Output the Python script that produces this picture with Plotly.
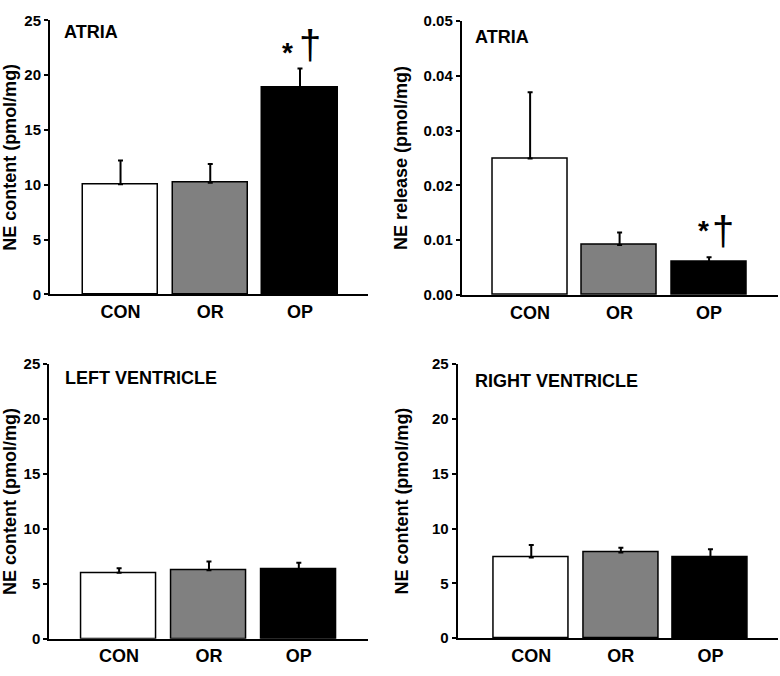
import plotly.graph_objects as go

groups = ["CON", "OR", "OP"]
bar_colors = ["white", "#808080", "black"]

# NE content, atria (pmol/mg)
atria_content = [10.05, 10.18, 18.85]
atria_content_err = [2.17, 1.72, 1.75]
# NE release, atria (pmol/mg)
atria_release = [0.0249, 0.0091, 0.0060]
atria_release_err = [0.0121, 0.0023, 0.0009]
# NE content, left ventricle
lv_content = [6.01, 6.24, 6.36]
lv_content_err = [0.41, 0.80, 0.56]
# NE content, right ventricle
rv_content = [7.35, 7.80, 7.37]
rv_content_err = [1.15, 0.44, 0.73]

FONT = "Arial, Liberation Sans, sans-serif"

fig = go.Figure()

panels = [
    # values, errs, xaxis, yaxis, label, label pos, ytitle, standoff, yrange, dtick, tickformat, xrange, xdomain, ydomain
    (atria_content, atria_content_err, "x", "y", "ATRIA", (0.038, 0.956), "NE content (pmol/mg)", 5,
     [0, 25], 5, "d", [-0.786, 2.758], [0.0641, 0.4718], [0.567, 0.9827]),
    (atria_release, atria_release_err, "x2", "y2", "ATRIA", (0.035, 0.94), "NE release (pmol/mg)", 11,
     [0, 0.05], 0.01, ".2f", [-0.764, 2.77], [0.592, 0.9974], [0.566, 0.982]),
    (lv_content, lv_content_err, "x3", "y3", "LEFT VENTRICLE", (0.042, 0.948), "NE content (pmol/mg)", 5,
     [0, 25], 5, "d", [-0.777, 2.77], [0.0632, 0.4718], [0.0444, 0.4611]),
    (rv_content, rv_content_err, "x4", "y4", "RIGHT VENTRICLE", (0.048, 0.938), "NE content (pmol/mg)", 19,
     [0, 25], 5, "d", [-0.821, 2.757], [0.5868, 0.9978], [0.0454, 0.4611]),
]

layout_axes = {}
annotations = []
for i, (vals, errs, xa, ya, label, lpos, ytitle, so, yr, dt, tf, xr, xd, yd) in enumerate(panels):
    fig.add_trace(go.Bar(
        x=[0, 1, 2], y=vals, width=0.836,
        marker=dict(color=bar_colors, line=dict(color="black", width=1.5)),
        error_y=dict(type="data", array=errs, arrayminus=[0, 0, 0], symmetric=False,
                     color="black", thickness=2, width=2.5),
        xaxis=xa, yaxis=ya, showlegend=False,
    ))
    n = "" if i == 0 else str(i + 1)
    layout_axes["xaxis" + n] = dict(
        domain=xd, range=xr, anchor=ya, tickvals=[0, 1, 2], ticktext=groups,
        showline=True, linecolor="black", linewidth=2, ticks="", showgrid=False,
        zeroline=False, tickfont=dict(family=FONT, size=18, color="black", weight="bold"),
        fixedrange=True,
    )
    layout_axes["yaxis" + n] = dict(
        domain=yd, range=yr, anchor=xa, dtick=dt, tick0=0, tickformat=tf,
        showline=True, linecolor="black", linewidth=2, ticks="outside", ticklen=4,
        tickwidth=1.5, tickcolor="black", showgrid=False, zeroline=False,
        tickfont=dict(family=FONT, size=15, color="black", weight="bold"),
        title=dict(text=ytitle, font=dict(family=FONT, size=18, color="black", weight="bold"),
                   standoff=so),
        fixedrange=True,
    )
    annotations.append(dict(
        text=label, xref=xa + " domain", yref=ya + " domain", x=lpos[0], y=lpos[1],
        xanchor="left", yanchor="middle", showarrow=False,
        font=dict(family=FONT, size=18, color="black", weight="bold"),
    ))

# significance marks
annotations += [
    dict(text="*", xref="x", yref="y", x=1.866, y=22.1, showarrow=False,
         font=dict(family=FONT, size=28, color="black", weight="bold")),
    dict(text="†", xref="x", yref="y", x=2.11, y=22.8, showarrow=False,
         font=dict(family=FONT, size=40, color="black")),
    dict(text="*", xref="x2", yref="y2", x=1.934, y=0.0118, showarrow=False,
         font=dict(family=FONT, size=28, color="black", weight="bold")),
    dict(text="†", xref="x2", yref="y2", x=2.154, y=0.0116, showarrow=False,
         font=dict(family=FONT, size=40, color="black")),
]

fig.update_layout(
    width=780, height=676,
    margin=dict(l=0, r=0, t=0, b=0),
    plot_bgcolor="white", paper_bgcolor="white",
    annotations=annotations,
    bargap=0,
    **layout_axes,
)

# drop the default page margin so the figure sits at the window's top-left corner
fig.write_html("out.html", config={"displayModeBar": False},
               post_script="document.body.style.margin='0';document.body.style.overflow='hidden';")
